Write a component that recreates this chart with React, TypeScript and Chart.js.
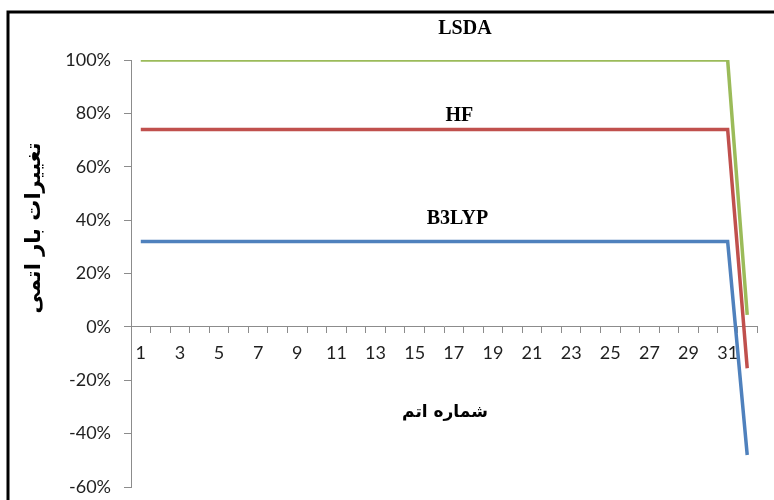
import React, { useEffect, useRef } from "react";
import { Chart, registerables } from "chart.js";

Chart.register(...registerables);

const categories = [
  "1", "2", "3", "4", "5", "6", "7", "8", "9", "10", "11", "12", "13", "14", "15", "16",
  "17", "18", "19", "20", "21", "22", "23", "24", "25", "26", "27", "28", "29", "30", "31", "32",
];

const lsda = [
  100, 100, 100, 100, 100, 100, 100, 100, 100, 100, 100, 100, 100, 100, 100, 100,
  100, 100, 100, 100, 100, 100, 100, 100, 100, 100, 100, 100, 100, 100, 100, 4.5,
];

const hf = [
  74, 74, 74, 74, 74, 74, 74, 74, 74, 74, 74, 74, 74, 74, 74, 74,
  74, 74, 74, 74, 74, 74, 74, 74, 74, 74, 74, 74, 74, 74, 74, -15.5,
];

const b3lyp = [
  32, 32, 32, 32, 32, 32, 32, 32, 32, 32, 32, 32, 32, 32, 32, 32,
  32, 32, 32, 32, 32, 32, 32, 32, 32, 32, 32, 32, 32, 32, 32, -48,
];

const seriesNames = ["LSDA", "HF", "B3LYP"];
const seriesColors = ["#9BBB59", "#C0504D", "#4F81BD"];
const yTicks = [-60, -40, -20, 0, 20, 40, 60, 80, 100];
const yTitle = "تغییرات بار اتمی";
const xTitle = "شماره اتم";

const overlayPlugin = {
  id: "overlay",
  beforeDraw(chart: any) {
    const { ctx, width, height } = chart;
    ctx.save();
    ctx.fillStyle = "#fff";
    ctx.fillRect(0, 0, width, height);
    ctx.restore();
  },
  afterDraw(chart: any) {
    const { ctx } = chart;
    const xs = chart.scales.x;
    const ys = chart.scales.y;
    ctx.save();
    // frame
    ctx.strokeStyle = "#000";
    ctx.lineWidth = 3;
    ctx.beginPath();
    ctx.moveTo(8, 600);
    ctx.lineTo(8, 12);
    ctx.lineTo(900, 12);
    ctx.stroke();

    // series labels
    ctx.fillStyle = "#000";
    ctx.textAlign = "center";
    ctx.textBaseline = "middle";
    ctx.font = "bold 20px 'Liberation Serif'";
    const labelPos = [
      [16.57, 111.6],
      [16.29, 79.2],
      [16.19, 40.4],
    ];
    seriesNames.forEach((name, i) => {
      ctx.fillText(name, xs.getPixelForValue(labelPos[i][0]), ys.getPixelForValue(labelPos[i][1]));
    });

    // x title
    ctx.font = "bold 17px 'DejaVu Sans'";
    ctx.fillText(xTitle, xs.getPixelForValue(15.55), ys.getPixelForValue(-32));

    // y title
    ctx.translate(35, 228);
    ctx.rotate(-Math.PI / 2);
    ctx.font = "bold 21px 'DejaVu Sans'";
    ctx.fillText(yTitle, 0, 0);
    ctx.restore();
  },
};

export default function App() {
  const ref = useRef<HTMLCanvasElement | null>(null);

  useEffect(() => {
    if (!ref.current) return;
    const mk = (i: number, data: number[], width: number, clip: any) => ({
      label: seriesNames[i],
      data,
      borderColor: seriesColors[i],
      backgroundColor: seriesColors[i],
      borderWidth: width,
      pointRadius: 0,
      tension: 0,
      fill: false,
      clip,
    });
    const chart = new Chart(ref.current, {
      type: "line",
      data: {
        labels: categories,
        datasets: [
          mk(0, lsda, 3.5, { left: 5, top: 0, right: 5, bottom: 5 }),
          mk(1, hf, 3.5, 5),
          mk(2, b3lyp, 3.5, 5),
        ],
      },
      options: {
        responsive: false,
        animation: false,
        layout: { padding: { top: 60, right: 17, bottom: 13, left: 0 } },
        plugins: {
          legend: { display: false },
          tooltip: { enabled: false },
          title: { display: false },
        },
        scales: {
          x: {
            type: "category",
            position: { y: 0 } as any,
            offset: true,
            afterFit: (s: any) => {
              s.paddingLeft = 0;
              s.paddingRight = 0;
              s.paddingTop = 0;
              s.paddingBottom = 0;
            },
            grid: {
              offset: true,
              drawOnChartArea: false,
              drawTicks: true,
              tickLength: 6,
              color: "#8c8c8c",
            },
            border: { color: "#8c8c8c", width: 1 },
            ticks: {
              autoSkip: false,
              maxRotation: 0,
              padding: 10,
              color: "#1f1f1f",
              font: { family: "Lato", size: 18 },
              callback: (_v: any, i: number) => (i % 2 === 0 ? categories[i] : ""),
            },
          },
          y: {
            min: -60,
            max: 100,
            afterFit: (s: any) => {
              s.width = 131;
              s.paddingTop = 0;
              s.paddingBottom = 0;
            },
            afterBuildTicks: (s: any) => {
              s.ticks = yTicks.map((v) => ({ value: v }));
            },
            grid: {
              drawOnChartArea: false,
              drawTicks: true,
              tickLength: 7,
              color: "#8c8c8c",
            },
            border: { color: "#8c8c8c", width: 1 },
            ticks: {
              padding: 13,
              color: "#1f1f1f",
              font: { family: "Lato", size: 18 },
              callback: (v: any) => `${v}%`,
            },
          },
        },
      },
      plugins: [overlayPlugin],
    });
    return () => chart.destroy();
  }, []);

  return (
    <div style={{ position: "fixed", left: 0, top: 0, width: 774, height: 500 }}>
      <canvas ref={ref} width={774} height={500} />
    </div>
  );
}
